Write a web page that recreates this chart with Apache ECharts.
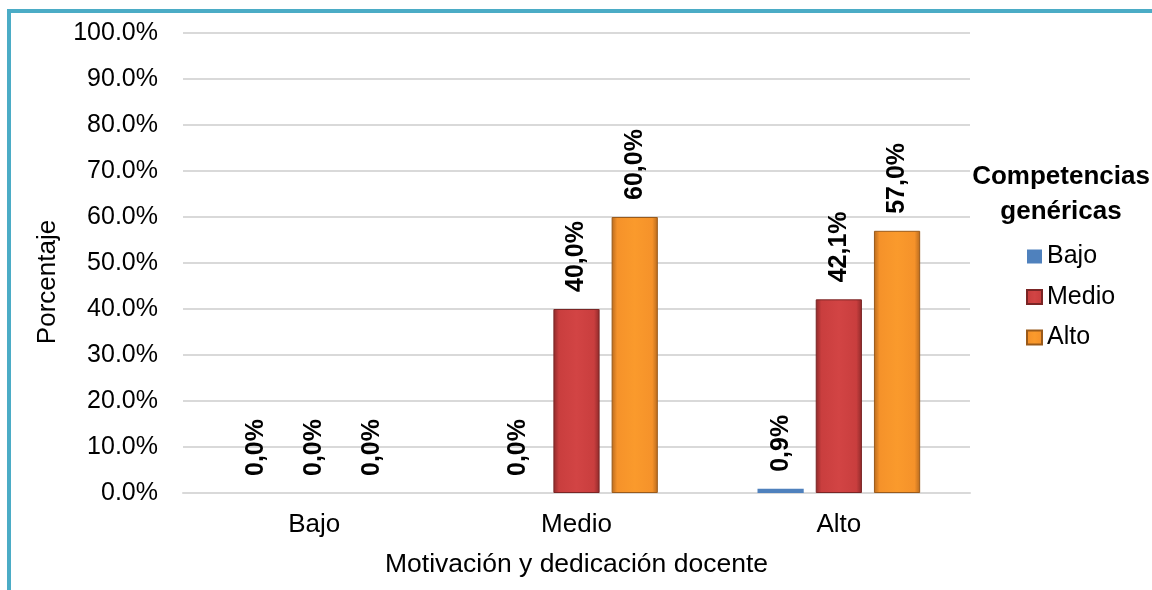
<!DOCTYPE html>
<html>
<head>
<meta charset="utf-8">
<script src="https://cdn.jsdelivr.net/npm/echarts@6/dist/echarts.min.js"></script>
<style>
html,body{margin:0;padding:0;background:#fff;}
#frame{position:absolute;left:7px;top:9px;width:1200px;height:640px;border-top:4px solid #4BACC6;border-left:4px solid #4BACC6;}
#chart{position:absolute;left:0;top:0;width:1152px;height:590px;}
</style>
</head>
<body>
<div id="frame"></div>
<div id="chart"></div>
<script>
const categories = ['Bajo', 'Medio', 'Alto'];
const seriesNames = ['Bajo', 'Medio', 'Alto'];
const bajoValues = [0.0, 0.0, 0.9];
const medioValues = [0.0, 40.0, 42.1];
const altoValues = [0.0, 60.0, 57.0];
const yTicks = [0, 10, 20, 30, 40, 50, 60, 70, 80, 90, 100];

const FONT = 'Liberation Sans, Arial, sans-serif';
function grad(light, mid, dark) {
  return new echarts.graphic.LinearGradient(0, 0, 1, 0, [
    {offset: 0, color: dark},
    {offset: 0.12, color: mid},
    {offset: 0.5, color: light},
    {offset: 0.88, color: mid},
    {offset: 1, color: dark}
  ]);
}
const styles = [
  {color: '#4F81BD', border: '#4F81BD', bw: 0},
  {color: grad('#D24444', '#C93E3E', '#8E2A2A'), border: '#7A2525', bw: 1},
  {color: grad('#FA9A2C', '#F5922A', '#B86A1E'), border: '#9A5A1A', bw: 1}
];
const allValues = [bajoValues, medioValues, altoValues];

const chart = echarts.init(document.getElementById('chart'), null, {renderer: 'canvas'});
chart.setOption({
  animation: false,
  textStyle: {fontFamily: FONT},
  grid: {left: 183, right: 182, top: 33, bottom: 97},
  graphic: [{
    type: 'text', x: 1061, y: 159,
    style: {
      text: 'Competencias\ngenéricas', align: 'center',
      font: 'bold 26px ' + FONT, fill: '#000', lineHeight: 35
    }
  }, {
    type: 'text', x: 48, y: 282, rotation: Math.PI / 2,
    style: {
      text: 'Porcentaje', align: 'center', verticalAlign: 'middle',
      font: '26px ' + FONT, fill: '#000'
    }
  }],
  legend: {
    orient: 'vertical', left: 1021, top: 239, icon: 'rect',
    itemWidth: 15, itemHeight: 14, itemGap: 15.5,
    textStyle: {fontSize: 25, color: '#000', fontFamily: FONT, padding: [0, 0, 0, 0]},
    data: seriesNames
  },
  xAxis: {
    type: 'category', data: categories,
    axisLine: {show: true, lineStyle: {color: '#D9D9D9', width: 2}},
    axisTick: {show: false},
    axisLabel: {fontSize: 26, color: '#000', margin: 19},
    name: 'Motivación y dedicación docente', nameLocation: 'middle', nameGap: 58,
    nameTextStyle: {fontSize: 26.5, color: '#000'}
  },
  yAxis: {
    type: 'value', min: 0, max: 100, interval: 10,
    axisLine: {show: false}, axisTick: {show: false},
    splitLine: {lineStyle: {color: '#D9D9D9', width: 2}},
    axisLabel: {fontSize: 25, color: '#000', margin: 25,
      formatter: v => yTicks.includes(v) ? v.toFixed(1) + '%' : ''}
  },
  series: seriesNames.map((n, i) => ({
    name: n, type: 'bar',
    data: allValues[i].map(v => ({value: v, itemStyle: v === 0 ? {borderWidth: 0} : {}})),
    barGap: '26%', barCategoryGap: '38%',
    itemStyle: {color: styles[i].color, borderColor: styles[i].border, borderWidth: styles[i].bw},
    label: {
      show: true, position: 'top', rotate: 90, align: 'left', verticalAlign: 'middle',
      distance: 17, fontSize: 25, fontWeight: 'bold', color: '#000',
      formatter: p => p.value.toFixed(1).replace('.', ',') + '%'
    }
  }))
});
</script>
</body>
</html>
